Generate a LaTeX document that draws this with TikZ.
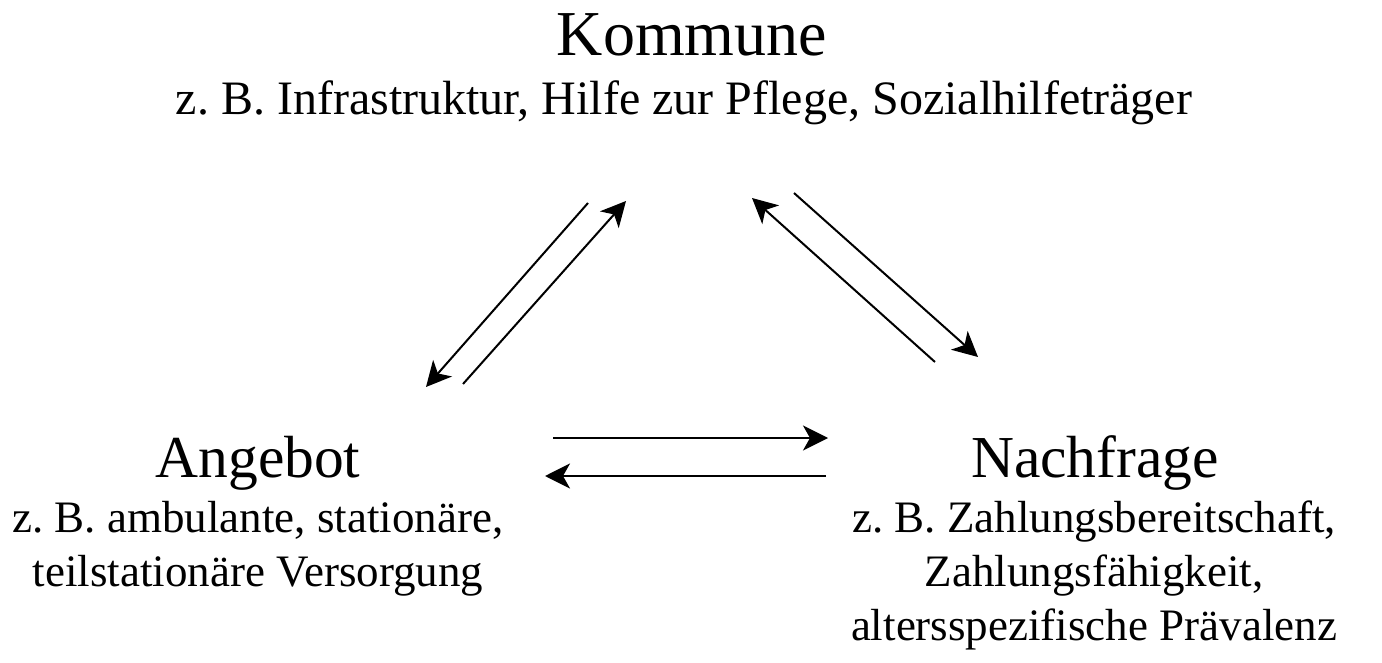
\documentclass[tikz,border=0pt]{standalone}
\usepackage{fontspec}
\setmainfont{Liberation Serif}
\usetikzlibrary{arrows.meta}
\frenchspacing
\begin{document}
\begin{tikzpicture}[x=1pt,y=-1pt,
  toptitle/.style={anchor=base,inner sep=0pt,font=\fontsize{64}{74}\selectfont},
  toptext/.style={anchor=base,inner sep=0pt,align=center,font=\fontsize{48}{55}\selectfont},
  title/.style={anchor=base,inner sep=0pt,font=\fontsize{59.5}{68}\selectfont},
  desc/.style={anchor=base,inner sep=0pt,align=center,font=\fontsize{45}{54}\selectfont},
  flow/.style={line width=2pt,-{Stealth[length=25pt,width=25pt,inset=7pt]}}]
\useasboundingbox (0,0) rectangle (1382,663);

% labels (descriptions are anchored at the baseline of their last line)
\node[toptitle] (kommune) at (692,56) {Kommune};
\node[toptext] (kommunetext) at (684,115) {z. B. Infrastruktur, Hilfe zur Pflege, Sozialhilfeträger};
\node[title] (angebot) at (258,477) {Angebot};
\node[desc] (angebottext) at (258,586) {z. B. ambulante, stationäre,\\teilstationäre Versorgung};
\node[title] (nachfrage) at (1095,477) {Nachfrage};
\node[desc] (nachfragetext) at (1094,640) {z. B. Zahlungsbereitschaft,\\Zahlungsfähigkeit,\\altersspezifische Prävalenz};

% arrow end points
\coordinate (ka1) at (588,203);  \coordinate (ka2) at (426,387);
\coordinate (ak1) at (463,384);  \coordinate (ak2) at (626,201);
\coordinate (nk1) at (935,362);  \coordinate (nk2) at (752,198);
\coordinate (kn1) at (794,193);  \coordinate (kn2) at (978,357);
\coordinate (an1) at (553,438);  \coordinate (an2) at (828,438);
\coordinate (na1) at (826,476);  \coordinate (na2) at (545,476);

% arrows
\draw[flow] (ka1) -- (ka2);
\draw[flow] (ak1) -- (ak2);
\draw[flow] (nk1) -- (nk2);
\draw[flow] (kn1) -- (kn2);
\draw[flow] (an1) -- (an2);
\draw[flow] (na1) -- (na2);
\end{tikzpicture}
\end{document}
